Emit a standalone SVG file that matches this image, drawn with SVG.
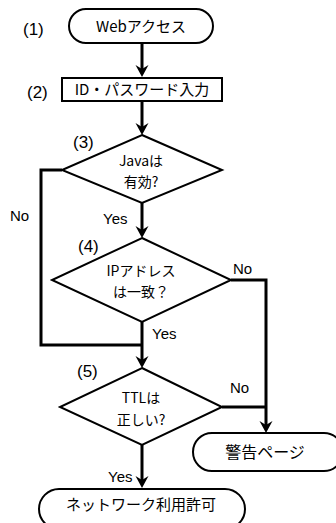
<svg xmlns="http://www.w3.org/2000/svg" width="336" height="523" viewBox="0 0 336 523">
<style>
.shape{fill:#fff;stroke:#000;stroke-width:2}
.conn{fill:none;stroke:#000;stroke-width:3}
.jp{font-family:"Noto Sans CJK JP","Noto Sans",sans-serif;fill:#000;text-anchor:middle}
.lbl{font-family:"Liberation Sans",Arial,sans-serif;font-size:15px;fill:#000}
.num{font-family:"Liberation Sans",Arial,sans-serif;font-size:17px;fill:#000}
</style>
<defs>
<marker id="arr" markerUnits="userSpaceOnUse" markerWidth="20" markerHeight="20" viewBox="-10 -10 20 20" refX="0" refY="0" orient="auto" overflow="visible">
<path d="M-7,-6.5 L5,0 L-7,6.5 L-3,0 Z" fill="#000"/>
</marker>
</defs>
<g id="connectors">
<line class="conn" x1="142" y1="43" x2="142" y2="72" marker-end="url(#arr)"/>
<line class="conn" x1="142" y1="101" x2="142" y2="130" marker-end="url(#arr)"/>
<line class="conn" x1="142" y1="203" x2="142" y2="233" marker-end="url(#arr)"/>
<polyline class="conn" points="62,170 41,170 41,345 142,345"/>
<line class="conn" x1="142" y1="322" x2="142" y2="363" marker-end="url(#arr)"/>
<polyline class="conn" points="231,280 266,280 266,428" marker-end="url(#arr)"/>
<line class="conn" x1="222" y1="407" x2="266" y2="407"/>
<line class="conn" x1="142" y1="445" x2="142" y2="483" marker-end="url(#arr)"/>
<text class="lbl" x="10" y="221">No</text>
<text class="lbl" x="103" y="224">Yes</text>
<text class="lbl" x="233" y="274">No</text>
<text class="lbl" x="152" y="339">Yes</text>
<text class="lbl" x="230" y="393">No</text>
<text class="lbl" x="108" y="482">Yes</text>
</g>
<g id="n1">
<rect class="shape" x="69" y="9" width="144" height="34" rx="17"/>
<text class="jp" x="141" y="32" font-size="15">Webアクセス</text>
<text class="num" x="23" y="35">(1)</text>
</g>
<g id="n2">
<rect class="shape" x="62" y="78" width="160" height="23"/>
<text class="jp" x="142" y="95" font-size="15">ID・パスワード入力</text>
<text class="num" x="27" y="98">(2)</text>
</g>
<g id="n3">
<polygon class="shape" points="142,135 222,170 142,203 62,170"/>
<text class="jp" x="141" y="166" font-size="14">Javaは</text>
<text class="jp" x="141" y="187" font-size="14">有効?</text>
<text class="num" x="73" y="148">(3)</text>
</g>
<g id="n4">
<polygon class="shape" points="142,238 231,280 142,322 52,280"/>
<text class="jp" x="141" y="276" font-size="14">IPアドレス</text>
<text class="jp" x="141" y="297" font-size="14">は一致？</text>
<text class="num" x="78" y="252">(4)</text>
</g>
<g id="n5">
<polygon class="shape" points="142,368 222,407 142,445 60,407"/>
<text class="jp" x="141" y="403" font-size="14">TTLは</text>
<text class="jp" x="141" y="425" font-size="14">正しい?</text>
<text class="num" x="77" y="377">(5)</text>
</g>
<g id="n6">
<rect class="shape" x="193" y="433" width="150" height="38" rx="19"/>
<text class="jp" x="265" y="458" font-size="16">警告ページ</text>
</g>
<g id="n7">
<rect class="shape" x="39" y="489" width="206" height="40" rx="20"/>
<text class="jp" x="141" y="510" font-size="15">ネットワーク利用許可</text>
</g>
</svg>
